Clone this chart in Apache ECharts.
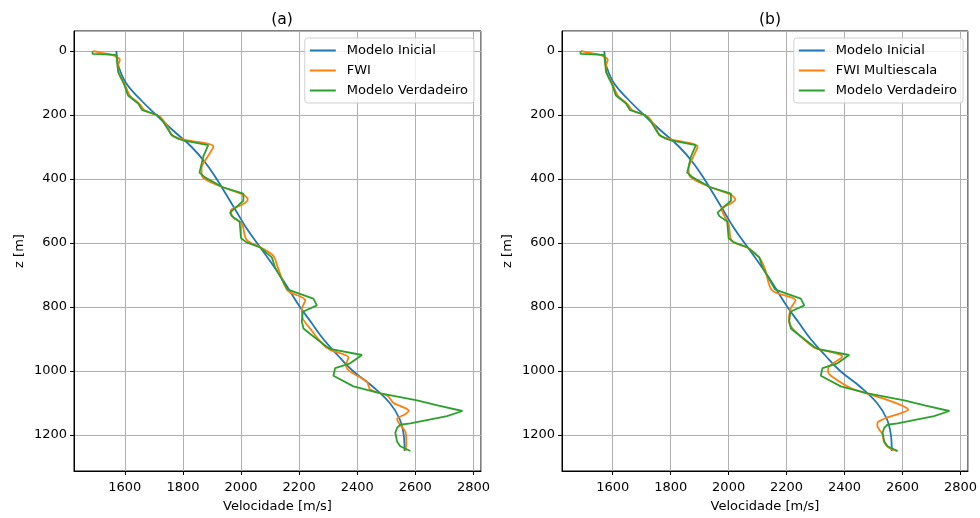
<!DOCTYPE html>
<html>
<head>
<meta charset="utf-8">
<script src="https://cdn.jsdelivr.net/npm/echarts@6/dist/echarts.min.js"></script>
<style>html,body{margin:0;padding:0;background:#fff}#c{width:980px;height:518px}</style>
</head>
<body>
<div id="c"></div>
<script>
// Modelo Inicial (shared)
const iniZ = [0, 20, 50, 100, 150, 200, 250, 300, 350, 400, 450, 500, 550, 600, 650, 700, 750, 800, 850, 900, 950, 1000, 1050, 1100, 1150, 1200, 1250];
const iniV = [1571, 1573, 1579, 1604, 1652, 1708, 1768, 1830, 1878, 1916, 1950, 1983, 2016, 2055, 2095, 2133, 2168, 2203, 2243, 2283, 2332, 2385, 2455, 2512, 2546, 2560, 2563];
// Modelo Verdadeiro (shared)
const trueZ = [0, 9, 12, 40, 66, 105, 139, 164, 185, 200, 221, 263, 275, 280, 294, 330, 380, 395, 425, 446, 468, 505, 516, 533, 585, 598, 614, 645, 676, 745, 758, 774, 795, 815, 845, 867, 883, 924, 932, 950, 977, 991, 1015, 1048, 1070, 1092, 1108, 1125, 1141, 1164, 1168, 1178, 1193, 1220, 1235, 1250];
const trueV = [1489, 1489, 1571, 1574, 1577, 1598, 1611, 1646, 1660, 1712, 1732, 1761, 1785, 1805, 1887, 1870, 1857, 1876, 1935, 2008, 2008, 1962, 1968, 1995, 2000, 2019, 2066, 2106, 2117, 2160, 2200, 2249, 2261, 2213, 2209, 2215, 2236, 2295, 2310, 2416, 2373, 2324, 2318, 2387, 2480, 2606, 2680, 2762, 2709, 2583, 2548, 2537, 2531, 2537, 2548, 2583];
// FWI (a)
const fwiZ = [0, 6, 15, 28, 45, 70, 105, 140, 165, 185, 205, 230, 265, 278, 299, 330, 366, 392, 425, 450, 464, 480, 498, 520, 540, 590, 615, 640, 680, 748, 779, 808, 835, 870, 919, 934, 958, 981, 1002, 1033, 1058, 1078, 1100, 1112, 1124, 1135, 1150, 1165, 1190, 1225, 1250];
const fwiV = [1492, 1520, 1565, 1583, 1577, 1580, 1600, 1618, 1650, 1668, 1720, 1742, 1765, 1810, 1905, 1885, 1864, 1866, 1935, 2010, 2023, 2005, 1965, 1973, 2003, 2019, 2070, 2111, 2128, 2160, 2221, 2209, 2212, 2240, 2284, 2307, 2370, 2361, 2376, 2433, 2445, 2505, 2525, 2555, 2577, 2565, 2537, 2545, 2566, 2569, 2566];
// FWI Multiescala (b)
const msZ = [0, 6, 15, 28, 45, 70, 105, 140, 165, 185, 205, 230, 265, 278, 299, 330, 368, 392, 425, 450, 464, 478, 492, 515, 541, 593, 615, 645, 680, 748, 779, 805, 841, 867, 919, 929, 955, 986, 1002, 1022, 1053, 1074, 1098, 1121, 1133, 1145, 1160, 1170, 1182, 1198, 1224, 1244, 1250];
const msV = [1490, 1520, 1565, 1583, 1577, 1580, 1600, 1618, 1650, 1668, 1720, 1742, 1765, 1810, 1893, 1878, 1862, 1866, 1935, 2010, 2023, 2005, 1975, 1985, 2000, 2011, 2065, 2105, 2125, 2150, 2231, 2214, 2208, 2220, 2283, 2300, 2392, 2346, 2343, 2364, 2421, 2490, 2571, 2620, 2590, 2548, 2515, 2513, 2519, 2531, 2537, 2559, 2583];

const titles = ['(a)', '(b)'];
const xName = 'Velocidade [m/s]';
const yName = 'z [m]';
const xMin = 1425, xMax = 2826, yMin = -62.5, yMax = 1312.5;

const pairs = (v, z) => v.map((x, i) => [x, z[i]]);
const C = ['#1f77b4', '#ff7f0e', '#2ca02c'];
const font = 'DejaVu Sans';
const FS = 13;
const grids = [{left: 74, top: 31, width: 407, height: 444}, {left: 562, top: 31, width: 407, height: 444}];

function xAx(i) {
  return {
    gridIndex: i, type: 'value', min: xMin, max: xMax, splitNumber: 7,
    name: xName, nameLocation: 'middle', nameGap: 29,
    nameTextStyle: {fontFamily: font, fontSize: FS, color: '#000'},
    axisLine: {show: true, onZero: false, lineStyle: {color: '#000', width: 1}},
    axisTick: {show: true, length: 4, lineStyle: {color: '#000'}},
    axisLabel: {fontFamily: font, fontSize: FS, color: '#000', showMinLabel: false, showMaxLabel: false, margin: 10, formatter: v => String(v)},
    splitLine: {show: true, lineStyle: {color: '#b0b0b0', width: 1}}
  };
}
function yAx(i) {
  return {
    gridIndex: i, type: 'value', min: yMin, max: yMax, inverse: true, splitNumber: 7,
    name: yName, nameLocation: 'middle', nameGap: 48, nameRotate: 90,
    nameTextStyle: {fontFamily: font, fontSize: FS, color: '#000'},
    axisLine: {show: true, onZero: false, lineStyle: {color: '#000', width: 1}},
    axisTick: {show: true, length: 4, lineStyle: {color: '#000'}},
    axisLabel: {fontFamily: font, fontSize: FS, color: '#000', showMinLabel: false, showMaxLabel: false, margin: 7, formatter: v => String(v)},
    splitLine: {show: true, lineStyle: {color: '#b0b0b0', width: 1}}
  };
}
function ser(name, data, color, idx, smooth) {
  return {
    name: name, type: 'line', xAxisIndex: idx, yAxisIndex: idx, data: data,
    symbol: 'none', smooth: smooth, lineStyle: {color: color, width: 1.8}, itemStyle: {color: color},
    animation: false, z: 2
  };
}
function legend(names, right) {
  return {
    data: names, orient: 'vertical', right: right, top: 38,
    icon: 'rect',
    backgroundColor: 'rgba(255,255,255,0.8)', borderColor: '#d0d0d0', borderWidth: 1, borderRadius: 3,
    padding: [5, 6, 5, 5], itemWidth: 26, itemHeight: 2, itemGap: 5,
    textStyle: {fontFamily: font, fontSize: FS, color: '#000', padding: [0, 0, 0, 6], lineHeight: 15}
  };
}

const chart = echarts.init(document.getElementById('c'), null, {renderer: 'canvas'});
chart.setOption({
  animation: false,
  backgroundColor: '#fff',
  title: [
    {text: titles[0], left: 277, top: 7, textAlign: 'center', textStyle: {fontFamily: font, fontSize: 15.6, fontWeight: 'normal', color: '#000'}},
    {text: titles[1], left: 765, top: 7, textAlign: 'center', textStyle: {fontFamily: font, fontSize: 15.6, fontWeight: 'normal', color: '#000'}}
  ],
  grid: grids.map(g => Object.assign({show: true, borderColor: '#000', borderWidth: 1, backgroundColor: 'transparent'}, g)),
  xAxis: [xAx(0), xAx(1)],
  yAxis: [yAx(0), yAx(1)],
  legend: [
    legend(['Modelo Inicial', 'FWI', 'Modelo Verdadeiro'], 506),
    legend(['Modelo Inicial', 'FWI Multiescala', 'Modelo Verdadeiro'], 17)
  ],
  series: [
    ser('Modelo Inicial', pairs(iniV, iniZ), C[0], 0, 0.4),
    ser('FWI', pairs(fwiV, fwiZ), C[1], 0, 0.3),
    ser('Modelo Verdadeiro', pairs(trueV, trueZ), C[2], 0, false),
    ser('Modelo Inicial', pairs(iniV, iniZ), C[0], 1, 0.4),
    ser('FWI Multiescala', pairs(msV, msZ), C[1], 1, 0.3),
    ser('Modelo Verdadeiro', pairs(trueV, trueZ), C[2], 1, false)
  ]
});
</script>
</body>
</html>
